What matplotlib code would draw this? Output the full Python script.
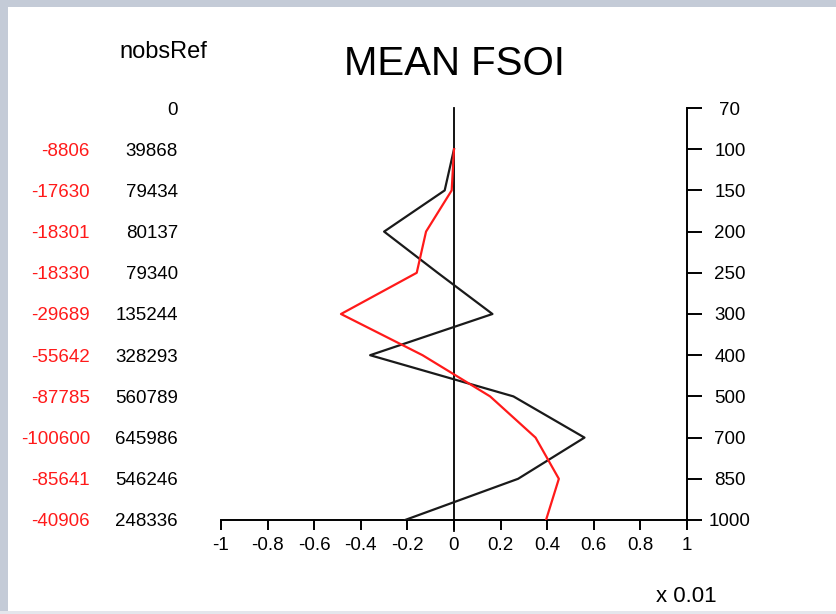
import matplotlib
matplotlib.use("Agg")
import matplotlib.pyplot as plt
from matplotlib.patches import Rectangle
from matplotlib.transforms import blended_transform_factory

plt.rcParams['font.family'] = ['Liberation Sans', 'DejaVu Sans']

levels = ["70", "100", "150", "200", "250", "300", "400", "500", "700", "850", "1000"]
nobs_ref = ["0", "39868", "79434", "80137", "79340", "135244", "328293", "560789", "645986", "546246", "248336"]
red_totals = ["", "-8806", "-17630", "-18301", "-18330", "-29689", "-55642", "-87785", "-100600", "-85641", "-40906"]
# series values (x 0.01), for levels 100 .. 1000
black_vals = [0.0, -0.04, -0.30, -0.07, 0.165, -0.36, 0.255, 0.56, 0.275, -0.21]
red_vals = [0.0, -0.01, -0.12, -0.16, -0.485, -0.135, 0.155, 0.35, 0.45, 0.395]
xticks = [-1, -0.8, -0.6, -0.4, -0.2, 0, 0.2, 0.4, 0.6, 0.8, 1]
xticklabels = ["-1", "-0.8", "-0.6", "-0.4", "-0.2", "0", "0.2", "0.4", "0.6", "0.8", "1"]

W, H = 837, 614
fig = plt.figure(figsize=(W / 100, H / 100), dpi=100)
fig.patch.set_facecolor('#c4cbd7')
fig.patches.append(Rectangle((0, 0), 1, 3 / H, transform=fig.transFigure,
                             facecolor='#e4e6ec', edgecolor='none', zorder=-6))
fig.patches.append(Rectangle((8 / W, (H - 611) / H), 1, (611 - 7) / H,
                             transform=fig.transFigure, facecolor='white',
                             edgecolor='none', zorder=-5))

def px(x0, y0, x1, y1):
    return [x0 / W, (H - y1) / H, (x1 - x0) / W, (y1 - y0) / H]

ax = fig.add_axes(px(221, 108, 687, 520))
ax.set_facecolor('none')
ax.set_zorder(2)
ax.set_xlim(-1, 1)
ax.set_ylim(len(levels) - 1, 0)

ypos = list(range(1, len(levels)))
ax.plot(black_vals, ypos, color='#1a1a1a', lw=1.6, zorder=3)
ax.plot(red_vals, ypos, color='#ff1a1a', lw=1.6, zorder=3)
ax.plot([0, 0], [0, len(levels) - 1 + 0.27], color='black', lw=1.3,
        clip_on=False, zorder=2)

for s in ['top', 'left']:
    ax.spines[s].set_visible(False)
ax.spines['bottom'].set_linewidth(1.4)
ax.spines['right'].set_linewidth(1.4)
ax.set_xticks(xticks)
ax.set_xticklabels(xticklabels)
ax.tick_params(axis='x', direction='out', length=7, width=1.4, labelsize=13.5, pad=5)
ax.yaxis.tick_right()
ax.set_yticks(range(len(levels)))
ax.tick_params(axis='y', direction='out', length=11, width=1.4, labelright=False)

tr = blended_transform_factory(fig.transFigure, ax.transData)
for i, lev in enumerate(levels):
    fig.text(730 / W, i, lev, transform=tr, color='black', fontsize=13.5,
             ha='center', va='center_baseline')
for i, (r, b) in enumerate(zip(red_totals, nobs_ref)):
    if r:
        fig.text(90 / W, i, r, transform=tr, color='#ff1a1a', fontsize=13.5,
                 ha='right', va='center_baseline')
    fig.text(178 / W, i, b, transform=tr, color='black', fontsize=13.5,
             ha='right', va='center_baseline')

fig.text(163 / W, (H - 52) / H, "nobsRef", fontsize=17, ha='center', va='center')
fig.text(454 / W, (H - 64) / H, "MEAN FSOI", fontsize=29, ha='center', va='center')
fig.text(686 / W, (H - 597) / H, "x 0.01", fontsize=16, ha='center', va='center')

fig.savefig("out.png", dpi=100, facecolor=fig.get_facecolor())
